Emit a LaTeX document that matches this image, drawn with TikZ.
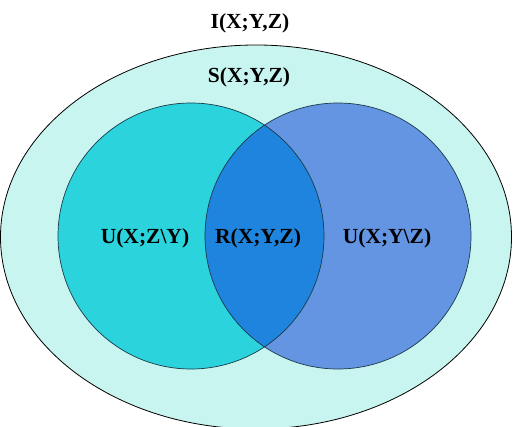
\documentclass[tikz,border=0pt]{standalone}
\usepackage{fontspec}
\setmainfont{Liberation Serif}
\definecolor{outerfill}{HTML}{C8F5EF}
\definecolor{leftfill}{HTML}{2BD3DD}
\definecolor{rightfill}{HTML}{6495E3}
\definecolor{midfill}{HTML}{1F84DD}
\definecolor{edgecol}{HTML}{1A3A4A}
\begin{document}
\begin{tikzpicture}[x=1pt,y=1pt,
  lbl/.style={font=\fontsize{21.5}{23}\selectfont\bfseries, inner sep=0pt},
  circ/.style={draw=edgecol, line width=0.7pt}]
\useasboundingbox (0,0) rectangle (513,426);
\fill[white] (0,0) rectangle (513,426);
\draw[fill=outerfill, line width=0.8pt] (256,189) ellipse [x radius=255.5, y radius=192];
\fill[leftfill] (191,190) circle [radius=133];
\fill[rightfill] (338,190) circle [radius=133];
\begin{scope}
  \clip (191,190) circle [radius=133];
  \fill[midfill] (338,190) circle [radius=133];
\end{scope}
\draw[circ] (191,190) circle [radius=133];
\draw[circ] (338,190) circle [radius=133];
\node[lbl] (I) at (250,403) {I(X;Y,Z)};
\node[lbl] (S) at (249,349) {S(X;Y,Z)};
\node[lbl] (R) at (258,188) {R(X;Y,Z)};
\node[lbl] (UL) at (145,188) {U(X;Z\textbackslash Y)};
\node[lbl] (UR) at (387,188) {U(X;Y\textbackslash Z)};
\end{tikzpicture}
\end{document}
